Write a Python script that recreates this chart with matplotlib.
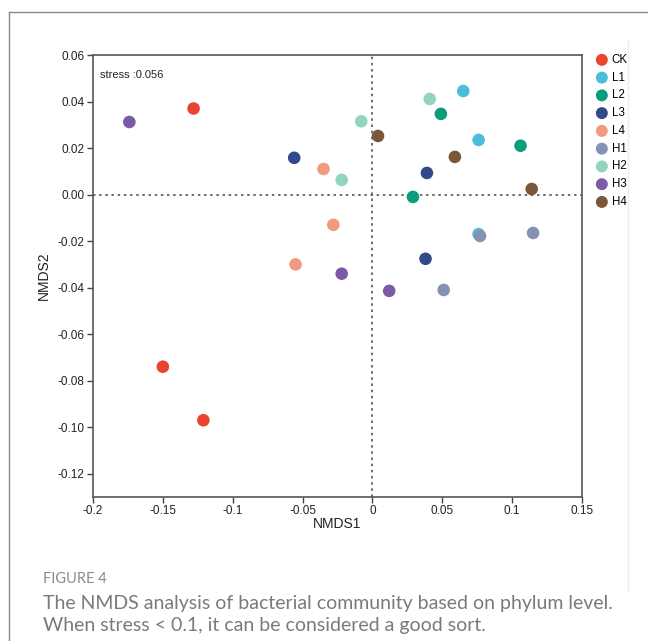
import matplotlib

matplotlib.use("Agg")
import matplotlib.pyplot as plt
from matplotlib.lines import Line2D

# NMDS coordinates, three samples per group
groups = ["CK", "L1", "L2", "L3", "L4", "H1", "H2", "H3", "H4"]
colors = ["#e8442f", "#4bbcd9", "#0a9c7c", "#32498a", "#f29a7f",
          "#8592b6", "#91d4c2", "#7c5aa7", "#7a5739"]
nmds1 = {
    "CK": [-0.128, -0.150, -0.121],
    "L1": [0.065, 0.076, 0.076],
    "L2": [0.049, 0.106, 0.029],
    "L3": [-0.056, 0.039, 0.038],
    "L4": [-0.035, -0.028, -0.055],
    "H1": [0.077, 0.115, 0.051],
    "H2": [0.041, -0.008, -0.022],
    "H3": [-0.174, -0.022, 0.012],
    "H4": [0.004, 0.059, 0.114],
}
nmds2 = {
    "CK": [0.037, -0.074, -0.097],
    "L1": [0.0445, 0.0235, -0.017],
    "L2": [0.0347, 0.021, -0.001],
    "L3": [0.0158, 0.0093, -0.0276],
    "L4": [0.011, -0.013, -0.030],
    "H1": [-0.0178, -0.0165, -0.041],
    "H2": [0.0411, 0.0315, 0.0063],
    "H3": [0.0312, -0.034, -0.0414],
    "H4": [0.0252, 0.0162, 0.0024],
}
x_ticks = [-0.2, -0.15, -0.1, -0.05, 0, 0.05, 0.1, 0.15]
x_tick_labels = ["-0.2", "-0.15", "-0.1", "-0.05", "0", "0.05", "0.1", "0.15"]
y_ticks = [0.06, 0.04, 0.02, 0.00, -0.02, -0.04, -0.06, -0.08, -0.10, -0.12]
y_tick_labels = ["0.06", "0.04", "0.02", "0.00", "-0.02", "-0.04", "-0.06",
                 "-0.08", "-0.10", "-0.12"]

W, H = 648, 641
plt.rcParams["font.family"] = ["Liberation Sans", "DejaVu Sans"]
fig = plt.figure(figsize=(W / 100, H / 100), dpi=100)

# card border around the figure
fig.add_artist(Line2D([9 / W, 9 / W], [0, 1 - 12 / H], color="#8a8a8a", lw=1.0))
fig.add_artist(Line2D([9 / W, 1], [1 - 12 / H, 1 - 12 / H], color="#8a8a8a", lw=1.0))
fig.add_artist(Line2D([628 / W, 628 / W], [1 - 590 / H, 1 - 40 / H], color="#eeeeee", lw=1.0))

ax = fig.add_axes([93 / W, 1 - 497 / H, 489 / W, 442 / H])
ax.axvline(0, color="#555555", lw=1.2, ls=(0, (1.5, 2.2)), zorder=1)
ax.axhline(0, color="#555555", lw=1.2, ls=(0, (1.5, 2.2)), zorder=1)

for g, c in zip(groups, colors):
    ax.scatter(nmds1[g], nmds2[g], s=82, color=c, edgecolors="none", label=g, zorder=3)

ax.set_xlim(-0.2, 0.15)
ax.set_ylim(-0.13, 0.06)
ax.set_xticks(x_ticks)
ax.set_xticklabels(x_tick_labels)
ax.set_yticks(y_ticks)
ax.set_yticklabels(y_tick_labels)
ax.tick_params(direction="out", length=4, width=1, color="#444444",
               labelsize=8.5, labelcolor="#222222", pad=2)
for side in ["left", "right", "top", "bottom"]:
    ax.spines[side].set_color("#555555")
    ax.spines[side].set_linewidth(1.2)

ax.set_xlabel("NMDS1", fontsize=10, color="#222222", labelpad=0)
ax.set_ylabel("NMDS2", fontsize=10, color="#222222", labelpad=5)
ax.text(0.015, 0.965, "stress :0.056", transform=ax.transAxes, fontsize=8,
        color="#222222", va="top", ha="left")

ax.legend(loc="upper left", bbox_to_anchor=(1.017, 1.013), frameon=False,
          fontsize=8.3, handletextpad=0.25, labelspacing=0.5, borderaxespad=0,
          handlelength=1.2, markerscale=0.95)

fig.text(43 / W, 1 - 579 / H, "FIGURE 4", fontsize=10.5, color="#8a8a8a",
         family=["Lato", "DejaVu Sans"], va="center", ha="left")
fig.text(43 / W, 1 - 603 / H,
         "The NMDS analysis of bacterial community based on phylum level.",
         fontsize=14, color="#7a7a7a", family=["Lato", "DejaVu Sans"],
         va="center", ha="left")
fig.text(43 / W, 1 - 626 / H,
         "When stress < 0.1, it can be considered a good sort.",
         fontsize=14, color="#7a7a7a", family=["Lato", "DejaVu Sans"],
         va="center", ha="left")

fig.savefig("out.png", dpi=100)
